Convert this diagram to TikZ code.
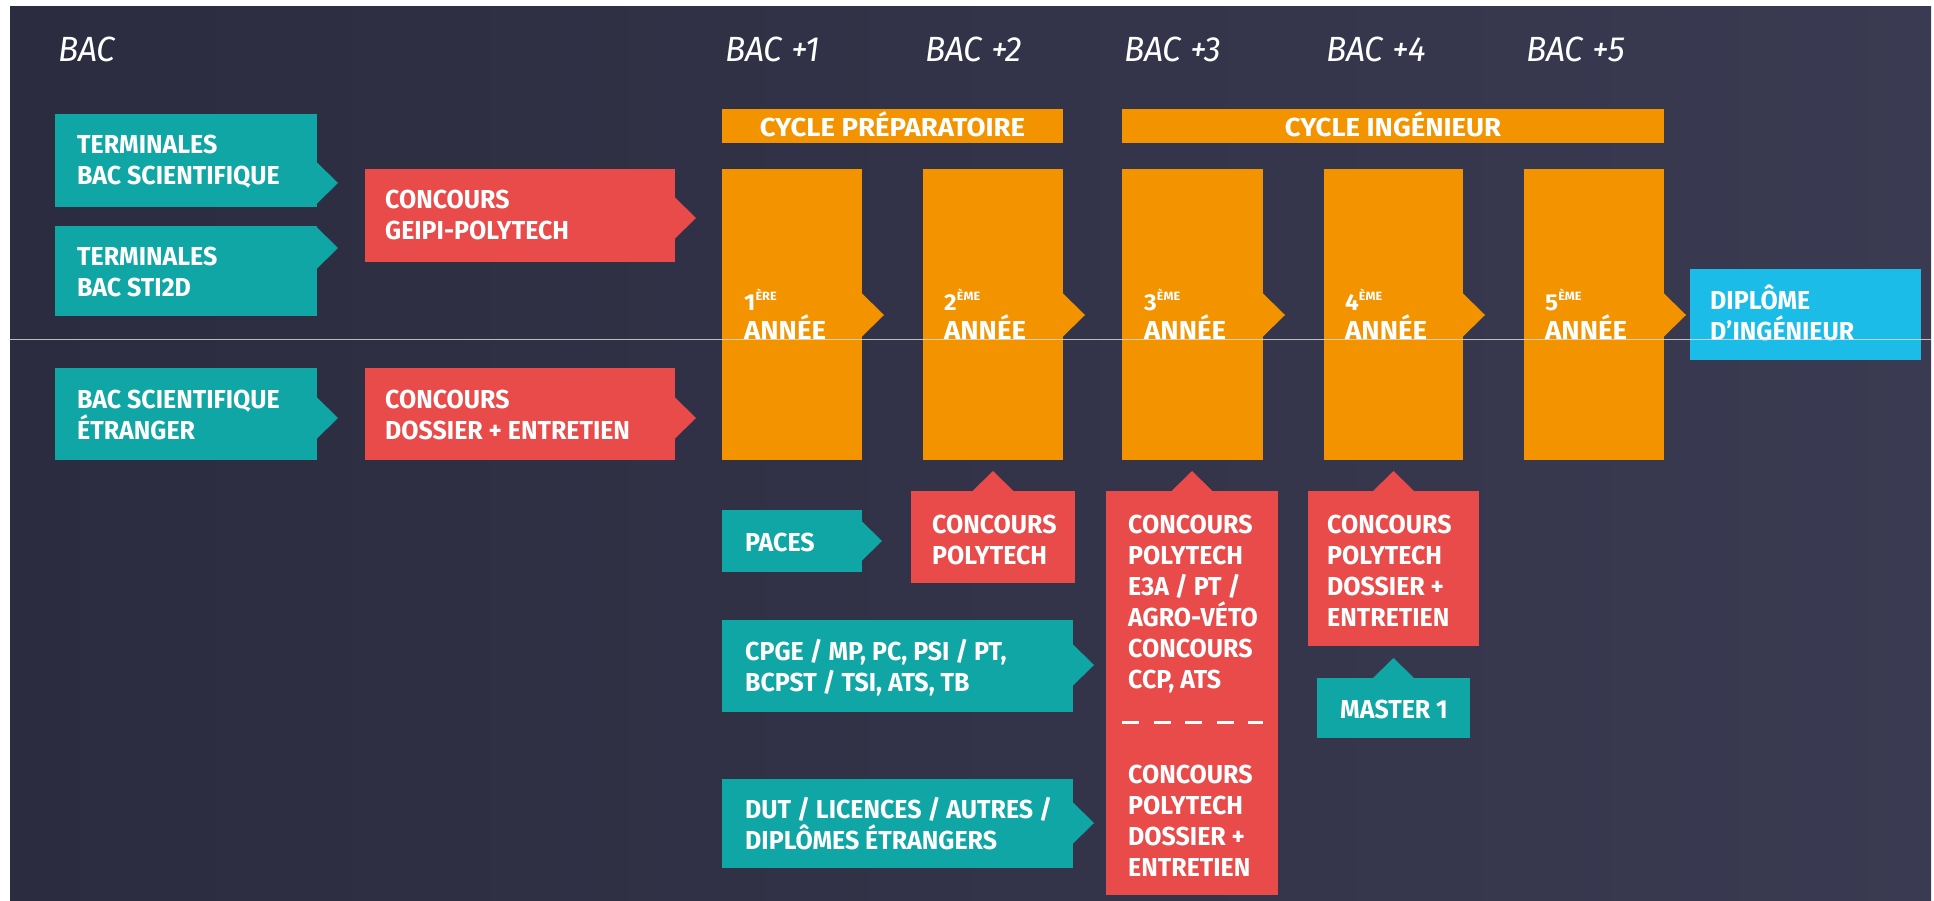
\documentclass[tikz,border=0pt]{standalone}
\usepackage{fontspec}
\setmainfont{Fira Sans}[FakeStretch=0.96]
\newfontfamily\hdrfont{Fira Sans}[FakeStretch=0.96]
\newfontfamily\widefont{Fira Sans}[FakeStretch=1.06]
\usetikzlibrary{calc}
\definecolor{bgL}{HTML}{2B2C3F}
\definecolor{bgR}{HTML}{3A3A52}
\definecolor{tealc}{HTML}{10A6A5}
\definecolor{redc}{HTML}{E84B4A}
\definecolor{orangec}{HTML}{F39300}
\definecolor{bluec}{HTML}{1CBCE9}
\newcommand\lblfont{\bfseries\fontsize{26}{31}\selectfont}
\newcommand\cycfont{\widefont\bfseries\fontsize{26}{31}\selectfont}
\newcommand\yearfont{\widefont\bfseries\fontsize{26}{29}\selectfont}
\newcommand\hdr[1]{{\hdrfont\itshape\fontsize{35}{35}\selectfont #1}}
\newcommand\ord[2]{{\fontsize{23}{23}\selectfont #1}\raisebox{10pt}{\fontsize{12}{12}\selectfont #2}}
% right-pointing tip: colour, node, tip offset below node top, half height
\newcommand{\rtip}[4]{\fill[#1] ($(#2.north east)+(-0.5,#3-#4)$) -- ($(#2.north east)+(#4,#3)$) -- ($(#2.north east)+(-0.5,#3+#4)$) -- cycle;}
% upward tip on top centre: colour, node
\newcommand{\utip}[2]{\fill[#1] ($(#2.north)+(-21,0.5)$) -- ($(#2.north)+(0,-20)$) -- ($(#2.north)+(21,0.5)$) -- cycle;}
\begin{document}
\begin{tikzpicture}[x=1pt,y=-1pt,
  blk/.style={rectangle, inner sep=0pt, outer sep=0pt, anchor=north west},
  lbl/.style={text=white, font=\lblfont, align=left, inner sep=0pt, anchor=base west},
  yr/.style={text=white, font=\yearfont, align=left, inner sep=0pt, anchor=south west},
  hd/.style={text=white, inner sep=0pt, anchor=base west}]
\useasboundingbox (0,0) rectangle (1934,901);
\fill[white] (0,0) rectangle (1934,901);
\shade[left color=bgL, right color=bgR] (10,7) rectangle (1931,901);

% headers
\node[hd] (h0) at (58,62) {\hdr{BAC}};
\node[hd] (h1) at (725,62) {\hdr{BAC +1}};
\node[hd] (h2) at (925,62) {\hdr{BAC +2}};
\node[hd] (h3) at (1124,62) {\hdr{BAC +3}};
\node[hd] (h4) at (1326,62) {\hdr{BAC +4}};
\node[hd] (h5) at (1526,62) {\hdr{BAC +5}};

% cycle bars
\node[blk, fill=orangec, minimum width=341pt, minimum height=34pt] (bar1) at (722,109) {};
\node[blk, fill=orangec, minimum width=542pt, minimum height=34pt] (bar2) at (1122,109) {};
\node[text=white, font=\cycfont, inner sep=0pt, anchor=base] at ($(bar1.north)+(0,28)$) {CYCLE PRÉPARATOIRE};
\node[text=white, font=\cycfont, inner sep=0pt, anchor=base] at ($(bar2.north)+(0,28)$) {CYCLE INGÉNIEUR};

% left column
\node[blk, fill=tealc, minimum width=262pt, minimum height=93pt] (t1) at (55,114) {};
\node[blk, fill=tealc, minimum width=262pt, minimum height=90pt] (t2) at (55,226) {};
\node[blk, fill=tealc, minimum width=262pt, minimum height=92pt] (t3) at (55,368) {};
\rtip{tealc}{t1}{69}{21}
\rtip{tealc}{t2}{22}{21}
\rtip{tealc}{t3}{50}{21}
\node[lbl] at (77,185) {TERMINALES\\BAC SCIENTIFIQUE};
\node[lbl] at (77,296) {TERMINALES\\BAC STI2D};
\node[lbl] at (77,439) {BAC SCIENTIFIQUE\\ÉTRANGER};

\node[blk, fill=redc, minimum width=310pt, minimum height=93pt] (r1) at (365,169) {};
\node[blk, fill=redc, minimum width=310pt, minimum height=92pt] (r2) at (365,368) {};
\rtip{redc}{r1}{49}{21}
\rtip{redc}{r2}{50}{21}
\node[lbl] at (385,240) {CONCOURS\\GEIPI-POLYTECH};
\node[lbl] at (385,439) {CONCOURS\\DOSSIER + ENTRETIEN};

% year columns
\node[blk, fill=orangec, minimum width=140pt, minimum height=291pt] (y1) at (722,169) {};
\node[blk, fill=orangec, minimum width=140pt, minimum height=291pt] (y2) at (923,169) {};
\node[blk, fill=orangec, minimum width=141pt, minimum height=291pt] (y3) at (1122,169) {};
\node[blk, fill=orangec, minimum width=139pt, minimum height=291pt] (y4) at (1324,169) {};
\node[blk, fill=orangec, minimum width=140pt, minimum height=291pt] (y5) at (1524,169) {};
\foreach \c in {y1,y2,y3,y4,y5} {\rtip{orangec}{\c}{146}{22}}
\node[yr] at (744,340) {\ord{1}{ÈRE}\\ANNÉE};
\node[yr] at (944,340) {\ord{2}{ÈME}\\ANNÉE};
\node[yr] at (1144,340) {\ord{3}{ÈME}\\ANNÉE};
\node[yr] at (1345,340) {\ord{4}{ÈME}\\ANNÉE};
\node[yr] at (1545,340) {\ord{5}{ÈME}\\ANNÉE};

% diploma
\node[blk, fill=bluec, minimum width=231pt, minimum height=91pt] (dip) at (1690,269) {};
\node[lbl] at (1710,340) {DIPLÔME\\D’INGÉNIEUR};

% lower teal boxes
\node[blk, fill=tealc, minimum width=140pt, minimum height=62pt] (paces) at (722,510) {};
\node[blk, fill=tealc, minimum width=351pt, minimum height=92pt] (cpge) at (722,620) {};
\node[blk, fill=tealc, minimum width=351pt, minimum height=89pt] (dut) at (722,779) {};
\rtip{tealc}{paces}{31}{20}
\rtip{tealc}{cpge}{45}{21}
\rtip{tealc}{dut}{44}{21}
\node[lbl] at (745,551) {PACES};
\node[lbl] at (745,691) {CPGE / MP, PC, PSI / PT,\\BCPST / TSI, ATS, TB};
\node[lbl] at (745,849) {DUT / LICENCES / AUTRES /\\DIPLÔMES ÉTRANGERS};

% lower red boxes
\node[blk, fill=redc, minimum width=164pt, minimum height=92pt] (rp) at (911,491) {};
\node[blk, fill=redc, minimum width=172pt, minimum height=404pt] (r3) at (1106,491) {};
\node[blk, fill=redc, minimum width=171pt, minimum height=155pt] (r4) at (1308,491) {};
\utip{redc}{rp}
\utip{redc}{r3}
\utip{redc}{r4}
\node[lbl] at (932,564) {CONCOURS\\POLYTECH};
\node[lbl] at (1128,688) {CONCOURS\\POLYTECH\\E3A / PT /\\AGRO-VÉTO\\CONCOURS\\CCP, ATS};
\draw[white, line width=3pt, dash pattern=on 17pt off 14.5pt] (r3.west |- 0,722) ++(16,0) coordinate (dl) -- ($(dl)+(141,0)$);
\node[lbl] at (1128,876) {CONCOURS\\POLYTECH\\DOSSIER +\\ENTRETIEN};
\node[lbl] at (1327,626) {CONCOURS\\POLYTECH\\DOSSIER +\\ENTRETIEN};

% master 1
\node[blk, fill=tealc, minimum width=153pt, minimum height=60pt] (m1) at (1317,678) {};
\utip{tealc}{m1}
\node[text=white, font=\lblfont, inner sep=0pt, anchor=base] at (1394,718) {MASTER 1};

% thin scan line
\draw[white!75!gray, line width=1pt, opacity=0.8] (10,339) -- (1931,339);
\end{tikzpicture}
\end{document}
